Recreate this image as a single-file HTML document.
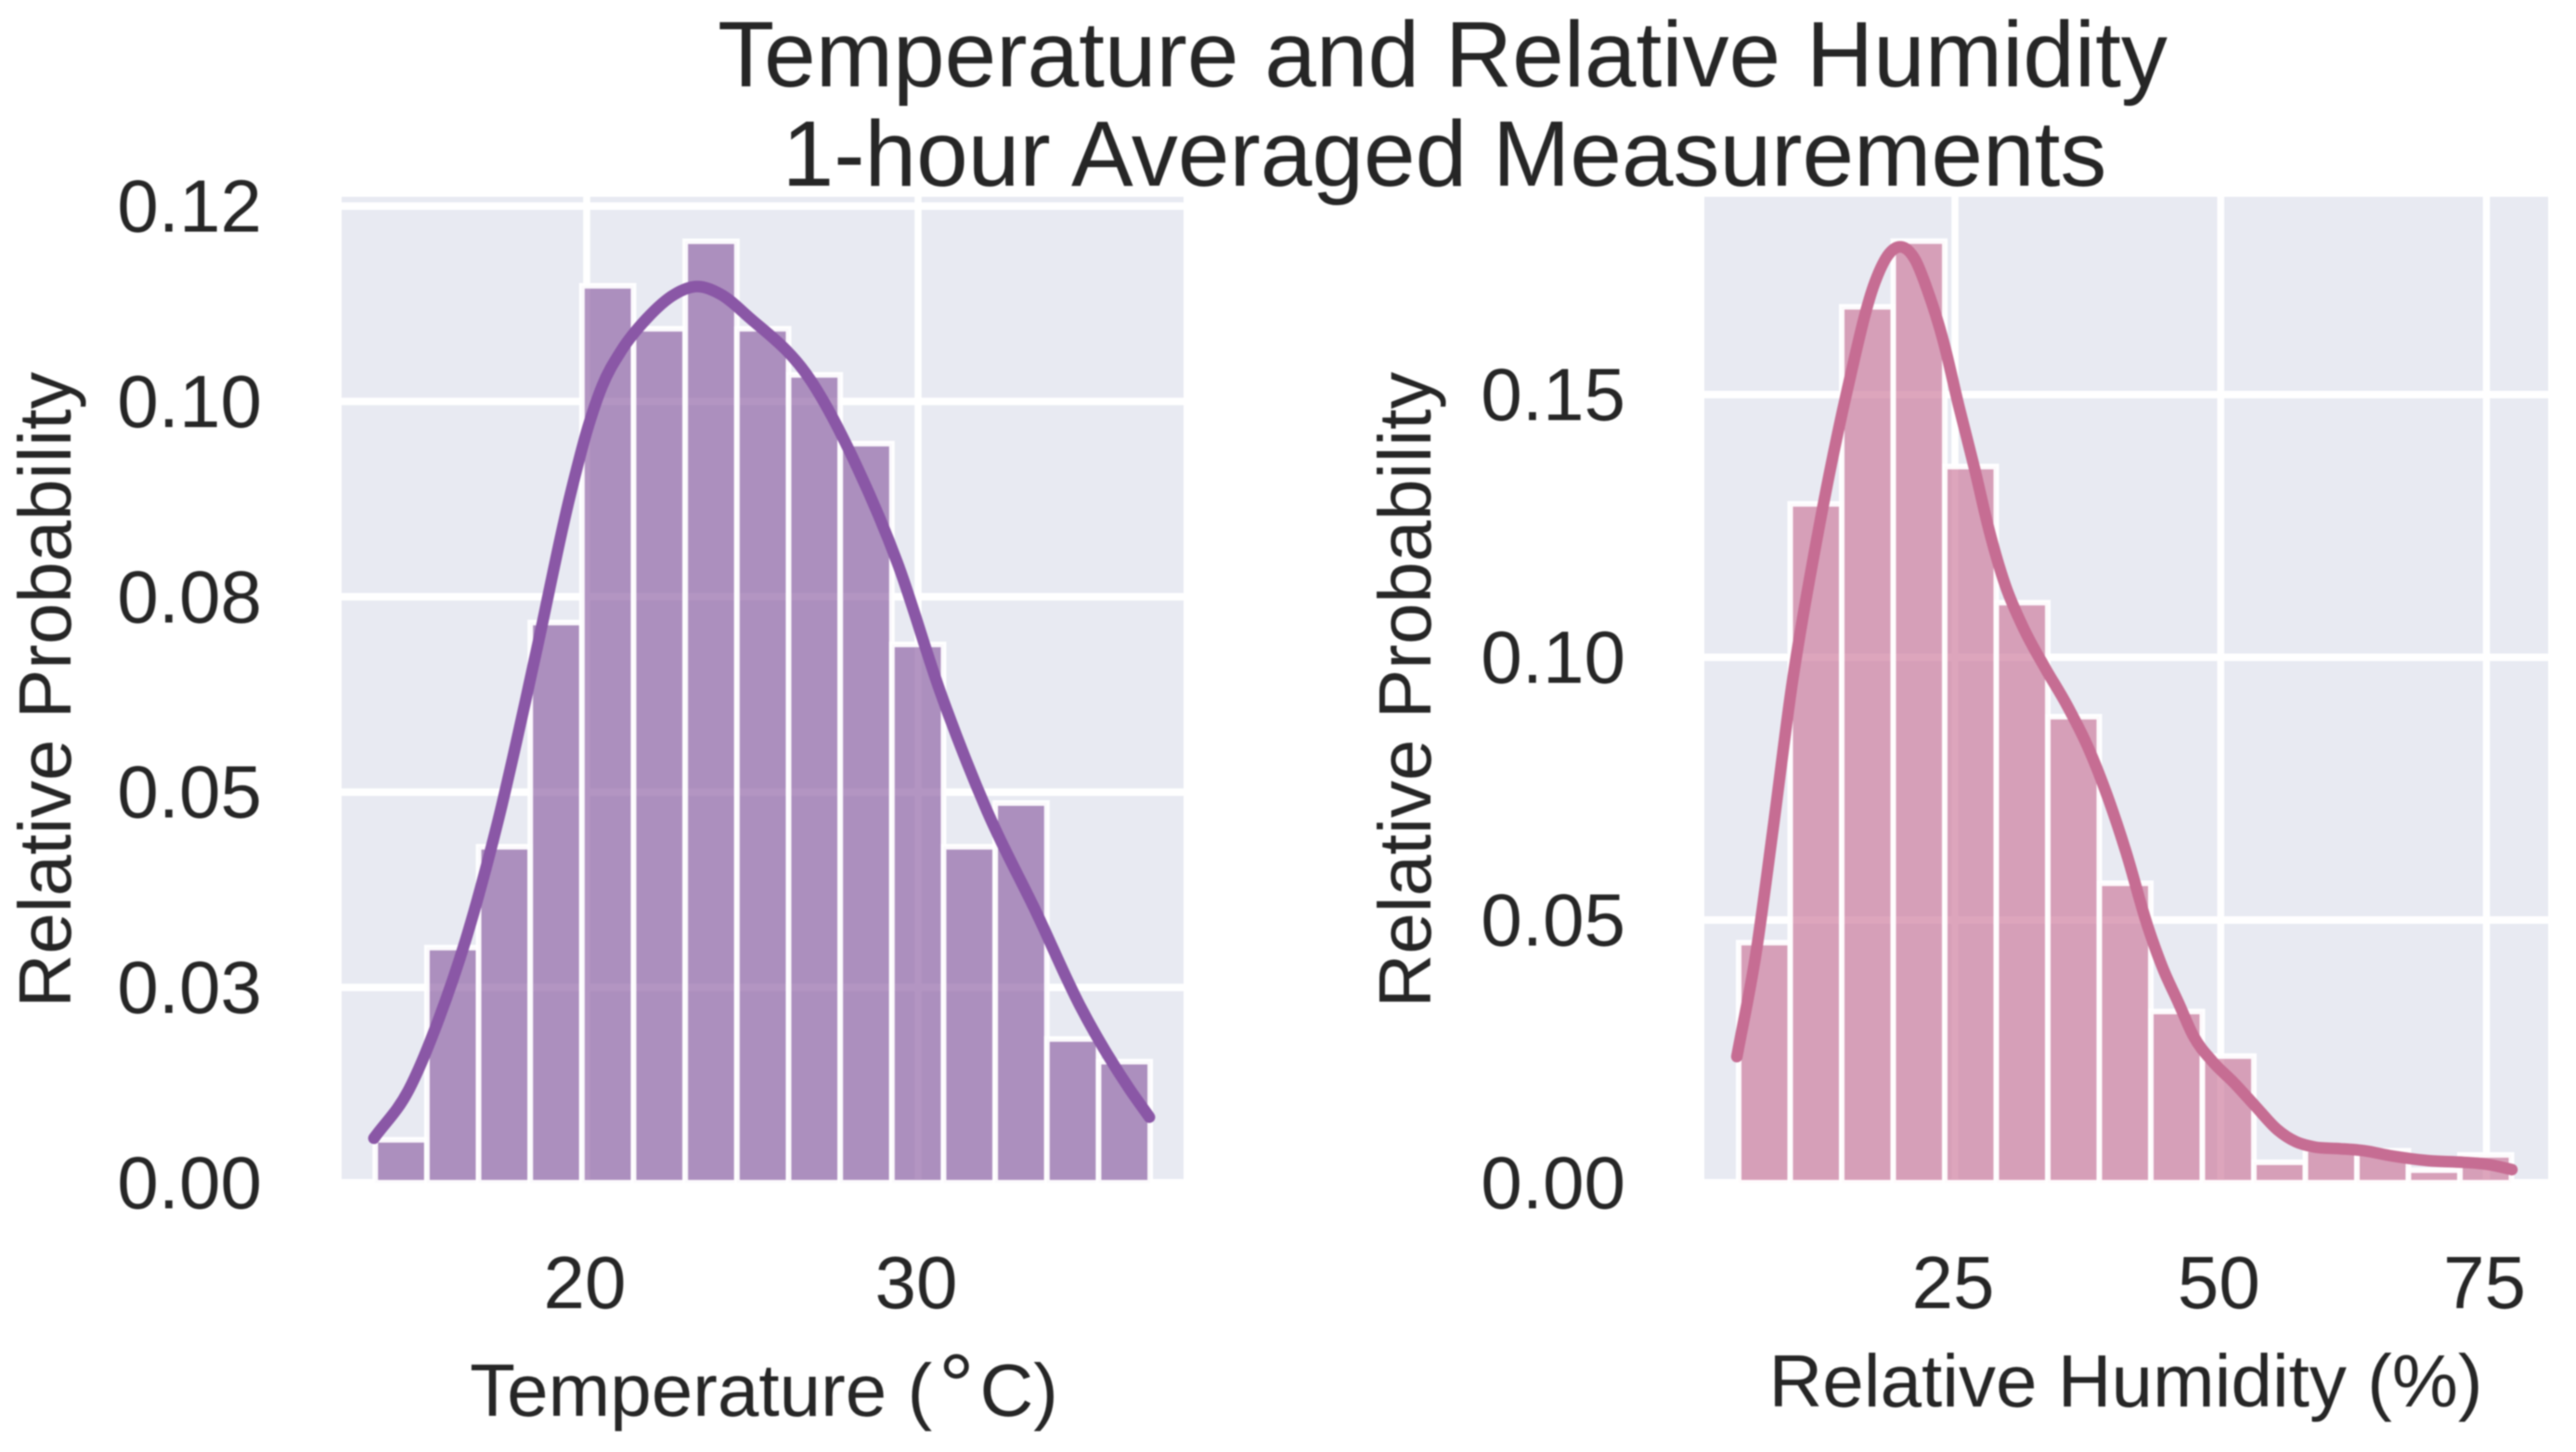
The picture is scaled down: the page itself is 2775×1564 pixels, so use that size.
<!DOCTYPE html>
<html lang="en">
<head>
<meta charset="utf-8">
<title>Temperature and Relative Humidity</title>
<style>
html,body{margin:0;padding:0;background:#fff;}
svg{display:block;filter:blur(0.7px);}
text{font-family:"Liberation Sans",Arial,sans-serif;fill:#262626;}
</style>
</head>
<body>
<svg id="chart" xmlns="http://www.w3.org/2000/svg" width="2775" height="1564" viewBox="0 0 2775 1564">
  <defs>
    <clipPath id="clip-left"><rect x="368" y="212" width="907" height="1062"/></clipPath>
    <clipPath id="clip-right"><rect x="1836" y="212" width="909" height="1062"/></clipPath>
  </defs>
  <g id="left-plot"></g>
  <g id="right-plot"></g>
  <text x="1554" y="93" font-size="100" text-anchor="middle">Temperature and Relative Humidity</text>
  <text x="1556" y="200" font-size="100" text-anchor="middle">1-hour Averaged Measurements</text>
  <text x="823" y="1525" font-size="80" text-anchor="middle">Temperature (<tspan dx="7" font-size="96">°</tspan><tspan dx="6">C)</tspan></text>
  <text x="2290" y="1515" font-size="80" text-anchor="middle">Relative Humidity (%)</text>
  <text transform="translate(76 743) rotate(-90)" font-size="80" text-anchor="middle">Relative Probability</text>
  <text transform="translate(1541 743) rotate(-90)" font-size="80" text-anchor="middle">Relative Probability</text>
</svg>
<script>
const tempBarValues = [0.0055, 0.0301, 0.0430, 0.0717, 0.1148, 0.1093, 0.1205, 0.1093, 0.1034, 0.0946, 0.0689, 0.0430, 0.0486, 0.0184, 0.0155];
const tempBinStart = 13.62;
const tempBinWidth = 1.559;
const tempKdeX = [13.58, 14.62, 15.55, 16.40, 17.33, 18.45, 19.48, 20.04, 20.46, 21.06, 21.81, 22.65, 23.31, 24.05, 24.89, 26.76, 28.16, 29.38, 30.68, 32.08, 33.58, 34.88, 36.38, 36.98];
const tempKdeY = [0.0057, 0.0118, 0.0211, 0.0318, 0.0464, 0.0674, 0.0876, 0.0967, 0.1019, 0.1066, 0.1106, 0.1137, 0.1147, 0.1137, 0.1108, 0.1027, 0.0916, 0.0793, 0.0627, 0.0476, 0.0345, 0.0227, 0.0120, 0.0084];
const tempXTicks = [20, 30];
const tempXTickLabels = ["20", "30"];
const tempYTicks = [0, 0.025, 0.05, 0.075, 0.1, 0.125];
const tempYTickLabels = ["0.00", "0.03", "0.05", "0.08", "0.10", "0.12"];

const humBarValues = [0.0457, 0.1292, 0.1667, 0.1792, 0.1363, 0.1104, 0.0887, 0.0570, 0.0326, 0.0241, 0.0039, 0.0064, 0.0061, 0.0024, 0.0053];
const humBinStart = 4.65;
const humBinWidth = 4.847;
const humKdeX = [4.48, 6.28, 7.88, 9.63, 11.96, 14.87, 17.49, 18.80, 19.96, 21.27, 22.44, 23.89, 25.35, 26.81, 28.26, 29.72, 31.46, 33.50, 35.39, 37.58, 39.32, 41.07, 43.10, 44.56, 46.02, 47.47, 49.22, 51.26, 53.30, 55.33, 57.08, 58.83, 61.16, 63.49, 66.11, 69.60, 72.80, 75.13, 77.40];
const humKdeY = [0.0240, 0.0437, 0.0673, 0.0943, 0.1220, 0.1509, 0.1715, 0.1768, 0.1781, 0.1756, 0.1697, 0.1603, 0.1479, 0.1362, 0.1238, 0.1138, 0.1055, 0.0979, 0.0914, 0.0826, 0.0737, 0.0631, 0.0490, 0.0408, 0.0343, 0.0278, 0.0231, 0.0190, 0.0145, 0.0101, 0.0078, 0.0068, 0.0065, 0.0061, 0.0051, 0.0042, 0.0039, 0.0035, 0.0025];
const humXTicks = [25, 50, 75];
const humXTickLabels = ["25", "50", "75"];
const humYTicks = [0, 0.05, 0.1, 0.15];
const humYTickLabels = ["0.00", "0.05", "0.10", "0.15"];

const NS = "http://www.w3.org/2000/svg";

function make(parent, tag, attrs) {
  const el = document.createElementNS(NS, tag);
  for (const k in attrs) el.setAttribute(k, attrs[k]);
  parent.appendChild(el);
  return el;
}

function smoothPath(pts) {
  const n = pts.length;
  const slope = [];
  for (let i = 0; i < n; i++) {
    if (i === 0) {
      slope.push((pts[1][1] - pts[0][1]) / (pts[1][0] - pts[0][0]));
    } else if (i === n - 1) {
      slope.push((pts[n - 1][1] - pts[n - 2][1]) / (pts[n - 1][0] - pts[n - 2][0]));
    } else {
      const h0 = pts[i][0] - pts[i - 1][0];
      const h1 = pts[i + 1][0] - pts[i][0];
      const d0 = (pts[i][1] - pts[i - 1][1]) / h0;
      const d1 = (pts[i + 1][1] - pts[i][1]) / h1;
      slope.push((d0 * h1 + d1 * h0) / (h0 + h1));
    }
  }
  let d = "M" + pts[0][0].toFixed(2) + " " + pts[0][1].toFixed(2);
  for (let i = 0; i < n - 1; i++) {
    const h = pts[i + 1][0] - pts[i][0];
    d += "C" + (pts[i][0] + h / 3).toFixed(2) + " " + (pts[i][1] + slope[i] * h / 3).toFixed(2) + " " +
         (pts[i + 1][0] - h / 3).toFixed(2) + " " + (pts[i + 1][1] - slope[i + 1] * h / 3).toFixed(2) + " " +
         pts[i + 1][0].toFixed(2) + " " + pts[i + 1][1].toFixed(2);
  }
  return d;
}

function drawPlot(cfg) {
  const g = document.getElementById(cfg.groupId);
  const sx = v => cfg.x0 + (v - cfg.xRef) * cfg.xScale;
  const sy = v => cfg.zeroY - v * cfg.yScale;

  const bg = make(g, "rect", {x: cfg.left, y: cfg.top, width: cfg.right - cfg.left, height: cfg.zeroY - cfg.top, fill: "#e8eaf2"});
  
  

  const clipped = make(g, "g", {"clip-path": "url(#" + cfg.clip + ")"});

  cfg.yTicks.forEach((t, i) => {
    const line = make(clipped, "line", {x1: cfg.left, x2: cfg.right, y1: sy(t), y2: sy(t), stroke: "#fff", "stroke-width": 8});
    
    
    const label = make(g, "text", {x: cfg.yLabelX, y: sy(t) + 27.5, "font-size": 80, "text-anchor": "end"});
    label.textContent = cfg.yLabels[i];
    
    
  });

  cfg.xTicks.forEach((t, i) => {
    const line = make(clipped, "line", {x1: sx(t), x2: sx(t), y1: cfg.top, y2: cfg.zeroY, stroke: "#fff", "stroke-width": 7.5});
    
    
    const label = make(g, "text", {x: sx(t) - 2, y: 1409, "font-size": 80, "text-anchor": "middle"});
    label.textContent = cfg.xLabels[i];
    
    
  });

  cfg.bars.forEach((v, i) => {
    const xa = sx(cfg.binStart + i * cfg.binWidth);
    const xb = sx(cfg.binStart + (i + 1) * cfg.binWidth);
    const bar = make(clipped, "rect", {
      x: xa, y: sy(v), width: xb - xa, height: cfg.zeroY - sy(v),
      fill: cfg.barColor, "fill-opacity": cfg.barAlpha, stroke: "#fff", "stroke-width": 6, "stroke-opacity": 0.95
    });
    
    
  });

  const pts = cfg.kdeX.map((x, i) => [sx(x), sy(cfg.kdeY[i])]);
  const curve = make(g, "path", {d: smoothPath(pts), fill: "none", stroke: cfg.lineColor, "stroke-width": 12.5, "stroke-linecap": "round", "stroke-linejoin": "round"});
  
  
}

drawPlot({
  groupId: "left-plot", clip: "clip-left",
  left: 368, right: 1275, top: 212, zeroY: 1274,
  x0: 632, xRef: 20, xScale: 35.7, yScale: 8416,
  yLabelX: 282,
  xTicks: tempXTicks, xLabels: tempXTickLabels,
  yTicks: tempYTicks, yLabels: tempYTickLabels,
  bars: tempBarValues, binStart: tempBinStart, binWidth: tempBinWidth,
  kdeX: tempKdeX, kdeY: tempKdeY,
  barColor: "#9368a8", barAlpha: 0.7, lineColor: "#8a57a6"
});

drawPlot({
  groupId: "right-plot", clip: "clip-right",
  left: 1836, right: 2745, top: 212, zeroY: 1274,
  x0: 2106, xRef: 25, xScale: 11.45, yScale: 5660,
  yLabelX: 1751,
  xTicks: humXTicks, xLabels: humXTickLabels,
  yTicks: humYTicks, yLabels: humYTickLabels,
  bars: humBarValues, binStart: humBinStart, binWidth: humBinWidth,
  kdeX: humKdeX, kdeY: humKdeY,
  barColor: "#ce7f9f", barAlpha: 0.7, lineColor: "#c66d93"
});
</script>
</body>
</html>
